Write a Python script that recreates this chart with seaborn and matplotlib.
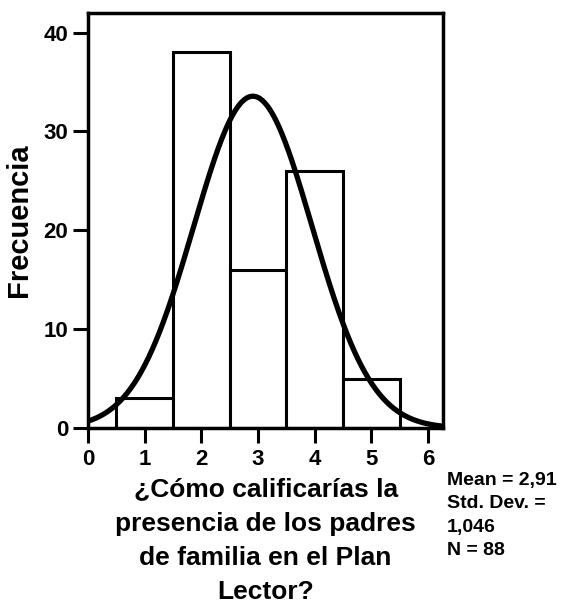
import numpy as np
import pandas as pd
import matplotlib
matplotlib.use("Agg")
import matplotlib.pyplot as plt
import seaborn as sns

# Data
rating = [1, 2, 3, 4, 5]
frequency = [3, 38, 16, 26, 5]
mean_val = 2.91
std_val = 1.046
n_total = 88

sns.set_style("white")
plt.rcParams['font.family'] = ['Liberation Sans', 'DejaVu Sans']
plt.rcParams['font.weight'] = 'bold'
plt.rcParams['text.color'] = 'black'
plt.rcParams['axes.labelcolor'] = 'black'
plt.rcParams['xtick.color'] = 'black'
plt.rcParams['ytick.color'] = 'black'

df = pd.DataFrame({'rating': rating, 'frequency': frequency})

fig = plt.figure(figsize=(5.67, 6.09), dpi=100)
ax = fig.add_axes([0.155, 0.297, 0.627, 0.682])

sns.histplot(data=df, x='rating', weights='frequency', discrete=True,
             color='white', edgecolor='black', linewidth=2.2, alpha=1, ax=ax)

# Normal curve from mean / std dev, scaled to counts (bin width 1)
xs = np.linspace(0, 6.3, 300)
ys = n_total / (std_val * np.sqrt(2 * np.pi)) * np.exp(-0.5 * ((xs - mean_val) / std_val) ** 2)
sns.lineplot(x=xs, y=ys, color='black', linewidth=3.8, ax=ax)

ax.set_xlim(0, 6.27)
ax.set_ylim(0, 42)
ax.set_xticks(range(0, 7))
ax.set_yticks([0, 10, 20, 30, 40])
ax.tick_params(axis='x', direction='out', length=11, width=2.2,
               labelsize=16, bottom=True, pad=4)
ax.tick_params(axis='y', direction='out', length=11, width=2.2,
               labelsize=16, left=True, pad=3)
for lab in ax.get_xticklabels() + ax.get_yticklabels():
    lab.set_fontweight('bold')
for s in ax.spines.values():
    s.set_linewidth(2.5)
    s.set_color('black')

ax.set_ylabel('Frecuencia', fontsize=21, fontweight='bold', labelpad=8)
ax.set_xlabel('¿Cómo calificarías la\npresencia de los padres\nde familia en el Plan\nLector?',
              fontsize=19, fontweight='bold', linespacing=1.55, va='top')
ax.xaxis.set_label_coords(0.5, -0.118)

stats = f'Mean = 2,91\nStd. Dev. =\n1,046\nN = {n_total}'
fig.text(0.788, 0.225, stats, fontsize=14, fontweight='bold',
         va='top', ha='left', linespacing=1.5)

fig.savefig('out.png', dpi=100)
